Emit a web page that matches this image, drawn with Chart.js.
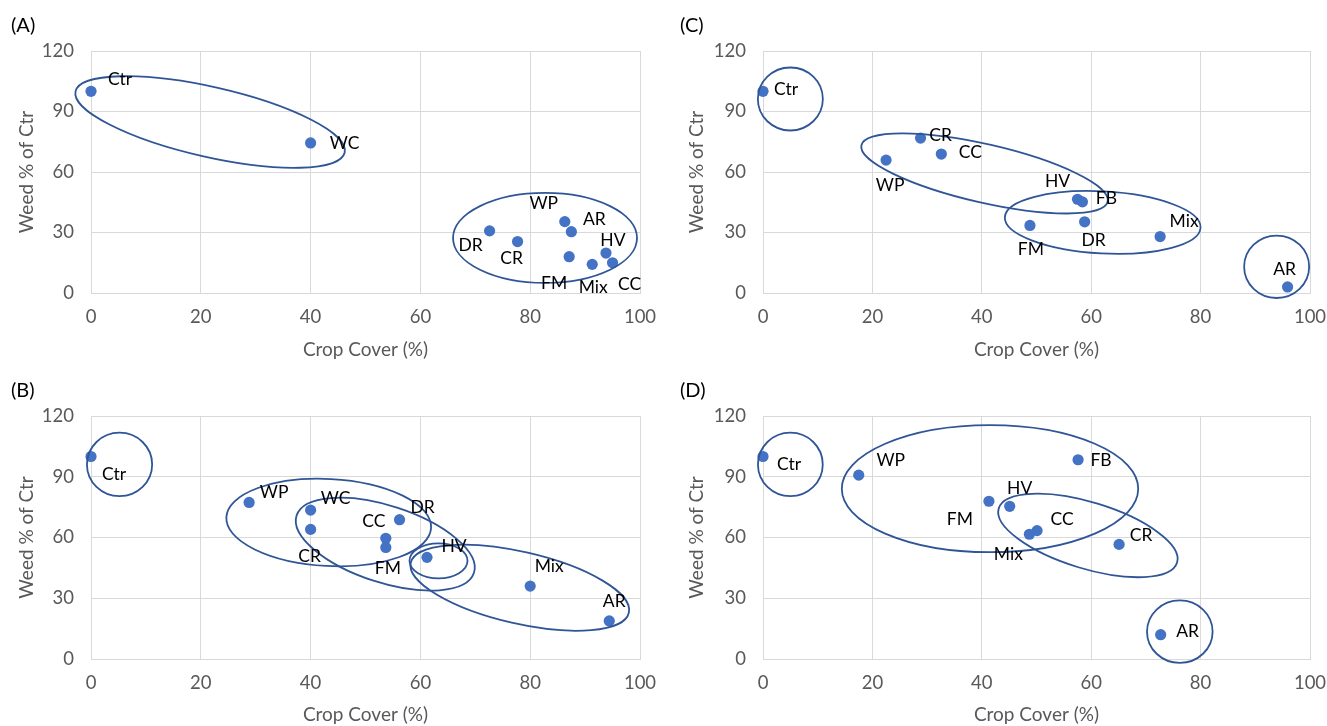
<!DOCTYPE html>
<html>
<head>
<meta charset="utf-8">
<script src="https://cdn.jsdelivr.net/npm/chart.js@4.4.1/dist/chart.umd.min.js"></script>
<style>
  html, body { margin: 0; padding: 0; background: #ffffff; }
  body { width: 1327px; height: 726px; position: relative; overflow: hidden; font-family: Lato, "Open Sans", sans-serif; }
  .cell { position: absolute; }
  .tag { position: absolute; font-family: Lato, sans-serif; font-size: 20px; line-height: 20px; color: #000; }
</style>
</head>
<body>
<div class="cell" style="left:0px;top:0px;width:663px;height:363px;"><canvas id="cA"></canvas></div>
<div class="cell" style="left:670px;top:0px;width:657px;height:363px;"><canvas id="cC"></canvas></div>
<div class="cell" style="left:0px;top:365px;width:663px;height:363px;"><canvas id="cB"></canvas></div>
<div class="cell" style="left:670px;top:365px;width:657px;height:363px;"><canvas id="cD"></canvas></div>
<div class="tag" style="left:11px;top:14px;">(A)</div>
<div class="tag" style="left:680px;top:14px;">(C)</div>
<div class="tag" style="left:11px;top:379px;">(B)</div>
<div class="tag" style="left:680px;top:379px;">(D)</div>
<script>
// ---------- data ----------
const xTicks = [0, 20, 40, 60, 80, 100];
const yTicks = [0, 30, 60, 90, 120];

const labelsA = ['Ctr', 'WC', 'DR', 'CR', 'WP', 'AR', 'HV', 'FM', 'Mix', 'CC'];
const coverA  = [0, 40, 72.6, 77.7, 86.3, 87.5, 93.8, 87.1, 91.3, 95];
const weedA   = [100, 74.4, 30.8, 25.5, 35.4, 30.4, 19.8, 18, 14.2, 15];

const labelsB = ['Ctr', 'WP', 'WC', 'CR', 'DR', 'CC', 'FM', 'HV', 'Mix', 'AR'];
const coverB  = [0, 28.8, 40, 40, 56.2, 53.7, 53.7, 61.2, 80, 94.4];
const weedB   = [100, 77.3, 73.5, 64, 68.8, 59.6, 55.1, 50.2, 36, 18.8];

const labelsC = ['Ctr', 'CR', 'CC', 'WP', 'HV', 'FB', 'DR', 'FM', 'Mix', 'AR'];
const coverC  = [0, 28.8, 32.6, 22.5, 57.5, 58.4, 58.8, 48.8, 72.6, 95.9];
const weedC   = [100, 76.8, 68.9, 65.9, 46.5, 45.2, 35.3, 33.5, 28, 3];

const labelsD = ['Ctr', 'WP', 'FB', 'FM', 'HV', 'Mix', 'CC', 'CR', 'AR'];
const coverD  = [0, 17.5, 57.6, 41.3, 45.1, 48.7, 50.1, 65.1, 72.7];
const weedD   = [100, 90.8, 98.4, 77.9, 75.4, 61.6, 63.4, 56.6, 12];

// ---------- label placement (pixel offsets from each point) ----------
const offA = [[29,-12],[34,0],[-19,14],[-6,17],[-21,-18],[23,-12],[7,-13],[-15,27],[1,23],[17,22]];
const offB = [[23,18],[25,-10],[25,-12],[-1,27],[23,-12],[-12,-17],[2,21],[27,-11],[19,-20],[5,-20]];
const offC = [[23,-2],[20,-3],[29,-2],[4,25],[-20,-18],[24,-3],[9,19],[1,24],[24,-15],[-3,-18]];
const offD = [[26,8],[32,-15],[23,1],[-29,18],[10,-18],[-21,20],[25,-11],[22,-9],[27,-3]];

// ---------- grouping ellipses (centre in data units, semi-axes in px, rotation deg) ----------
const ellA = [{x:21.7,y:84.8,a:138,b:35,r:12.8},{x:82.7,y:27.3,a:92,b:45,r:0}];
const ellB = [{x:5.2,y:96.1,a:32.6,b:31.7,r:0},{x:43.3,y:67.4,a:102.5,b:43.5,r:3},
              {x:53.6,y:56.7,a:93.2,b:38.4,r:17.9},{x:63.3,y:48.5,a:29,b:17.5,r:0},
              {x:78.1,y:35.2,a:111.9,b:35.9,r:12.9}];
const ellC = [{x:5.0,y:96.2,a:32.5,b:31.5,r:0},{x:40.5,y:59.3,a:126.3,b:29.2,r:12.9},
              {x:62.1,y:35.0,a:98,b:31,r:3.1},{x:93.9,y:13.0,a:32.5,b:31.2,r:0}];
const ellD = [{x:5.0,y:96.1,a:32.4,b:31.7,r:0},{x:41.5,y:84.1,a:148.2,b:63.5,r:0},
              {x:59.4,y:61.0,a:93.2,b:33.2,r:16.9},{x:76.2,y:13.5,a:32.8,b:31.2,r:0}];

// ---------- plugins ----------
const overlayPlugin = {
  id: 'overlay',
  afterDatasetsDraw(chart, args, opts) {
    const ctx = chart.ctx;
    const xs = chart.scales.x, ys = chart.scales.y;
    ctx.save();
    ctx.strokeStyle = '#2F5597';
    ctx.lineWidth = 1.8;
    (opts.ellipses || []).forEach(e => {
      const cx = xs.getPixelForValue(e.x), cy = ys.getPixelForValue(e.y);
      ctx.beginPath();
      ctx.ellipse(cx, cy, e.a, e.b, e.r * Math.PI / 180, 0, Math.PI * 2);
      ctx.stroke();
    });
    const meta = chart.getDatasetMeta(0);
    ctx.fillStyle = '#000000';
    ctx.font = '17.5px Lato, sans-serif';
    ctx.textAlign = 'center';
    ctx.textBaseline = 'middle';
    (opts.names || []).forEach((n, i) => {
      const el = meta.data[i];
      const o = opts.offsets[i];
      ctx.fillText(n, el.x + o[0], el.y + o[1]);
    });
    ctx.restore();
  }
};

function makePanel(id, names, xs, ys, offsets, ellipses, area, size) {
  const pts = xs.map((v, i) => ({ x: v, y: ys[i] }));
  const tickFont = { family: 'Lato, sans-serif', size: 18.5 };
  const titleFont = { family: 'Lato, sans-serif', size: 19 };
  return new Chart(document.getElementById(id), {
    type: 'scatter',
    data: { datasets: [{ data: pts, backgroundColor: '#4472C4', borderWidth: 0, pointRadius: 5.6, pointHoverRadius: 5.6, clip: false }] },
    options: {
      responsive: false, maintainAspectRatio: false, animation: false,
      devicePixelRatio: 1,
      layout: { padding: { left: 0, top: area.top, right: size.w - area.right, bottom: 0 } },
      plugins: {
        legend: { display: false }, tooltip: { enabled: false },
        overlay: { names: names, offsets: offsets, ellipses: ellipses }
      },
      scales: {
        x: {
          type: 'linear', min: 0, max: 100,
          afterBuildTicks: s => { s.ticks = xTicks.map(v => ({ value: v })); },
          afterFit: s => { s.height = size.h - area.bottom; s.paddingLeft = 0; s.paddingRight = 0; },
          grid: { color: '#D9D9D9', drawTicks: false, lineWidth: 1 },
          border: { display: true, color: '#D9D9D9' },
          ticks: { color: '#595959', font: tickFont, padding: 13, maxRotation: 0 },
          title: { display: true, text: 'Crop Cover (%)', color: '#595959', font: titleFont, padding: { top: 0, bottom: 2 } }
        },
        y: {
          type: 'linear', min: 0, max: 120,
          afterBuildTicks: s => { s.ticks = yTicks.map(v => ({ value: v })); },
          afterFit: s => { s.width = area.left; s.paddingTop = 0; s.paddingBottom = 0; },
          grid: { color: '#D9D9D9', drawTicks: false, lineWidth: 1 },
          border: { display: false },
          ticks: { color: '#595959', font: tickFont, padding: 17 },
          title: { display: true, text: 'Weed % of Ctr', color: '#595959', font: titleFont, padding: { top: 15, bottom: 0 } }
        }
      }
    },
    plugins: [overlayPlugin]
  });
}

function sizeCanvas(id, w, h) {
  const c = document.getElementById(id);
  c.width = w; c.height = h; c.style.width = w + 'px'; c.style.height = h + 'px';
}
sizeCanvas('cA', 663, 363); sizeCanvas('cC', 657, 363);
sizeCanvas('cB', 663, 363); sizeCanvas('cD', 657, 363);

makePanel('cA', labelsA, coverA, weedA, offA, ellA, { left: 91, right: 640, top: 51, bottom: 293 }, { w: 663, h: 363 });
makePanel('cC', labelsC, coverC, weedC, offC, ellC, { left: 93, right: 640, top: 51, bottom: 293 }, { w: 657, h: 363 });
makePanel('cB', labelsB, coverB, weedB, offB, ellB, { left: 91, right: 640, top: 51, bottom: 294 }, { w: 663, h: 363 });
makePanel('cD', labelsD, coverD, weedD, offD, ellD, { left: 93, right: 640, top: 51, bottom: 294 }, { w: 657, h: 363 });
</script>
</body>
</html>
